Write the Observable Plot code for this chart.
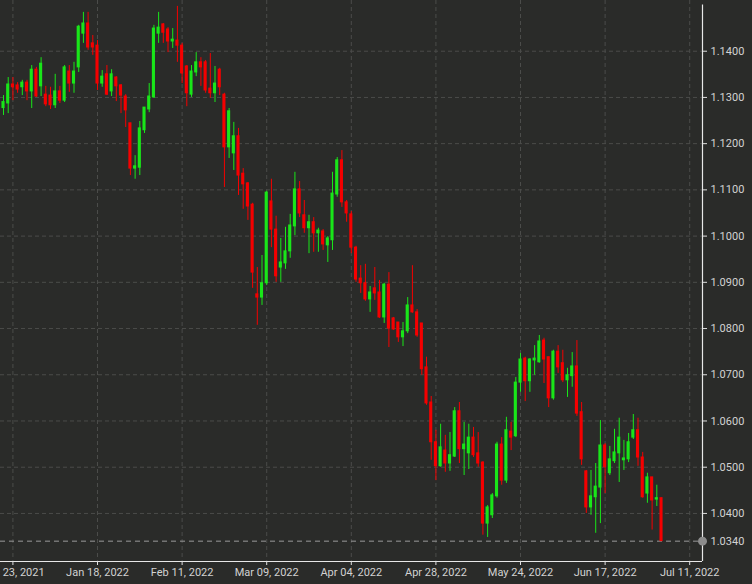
<!DOCTYPE html>
<html><head><meta charset="utf-8">
<script src="https://cdn.jsdelivr.net/npm/d3@7"></script>
<script src="https://cdn.jsdelivr.net/npm/@observablehq/plot@0.6"></script>
<style>
html,body{margin:0;padding:0;background:#2a2b29;overflow:hidden;}
#chart svg{display:block;}
</style>
</head><body><div id="chart"></div>
<script>
// EUR/USD daily candles, trading-day index 0 = Dec 21, 2021
const open  = [1.1277,1.1287,1.1328,1.1326,1.1322,1.1332,1.1313,1.1360,1.1324,1.1306,1.1304,1.1283,1.1313,1.1293,1.1356,1.1330,1.1365,1.1438,1.1460,1.1417,1.1412,1.1330,1.1350,1.1313,1.1343,1.1326,1.1302,1.1244,1.1146,1.1148,1.1229,1.1274,1.1300,1.1438,1.1458,1.1447,1.1421,1.1423,1.1412,1.1367,1.1306,1.1354,1.1376,1.1376,1.1319,1.1309,1.1360,1.1306,1.1192,1.1179,1.1216,1.1135,1.1114,1.1068,1.0874,1.0867,1.0898,1.1075,1.1014,1.0932,1.0941,1.0967,1.1021,1.1101,1.1045,1.1017,1.1030,1.1006,1.1010,1.0980,1.0991,1.1090,1.1164,1.1073,1.1047,1.0975,1.0908,1.0898,1.0863,1.0887,1.0878,1.0824,1.0895,1.0822,1.0813,1.0781,1.0794,1.0850,1.0835,1.0811,1.0716,1.0640,1.0554,1.0502,1.0536,1.0508,1.0523,1.0621,1.0539,1.0530,1.0564,1.0530,1.0510,1.0378,1.0396,1.0437,1.0549,1.0471,1.0577,1.0567,1.0683,1.0735,1.0686,1.0731,1.0727,1.0774,1.0738,1.0649,1.0750,1.0725,1.0688,1.0697,1.0718,1.0619,1.0491,1.0413,1.0435,1.0456,1.0547,1.0487,1.0513,1.0530,1.0515,1.0517,1.0564,1.0580,1.0521,1.0443,1.0478,1.0430,1.0433];
const high  = [1.1304,1.1343,1.1343,1.1332,1.1337,1.1337,1.1369,1.1365,1.1386,1.1324,1.1322,1.1350,1.1324,1.1369,1.1369,1.1376,1.1456,1.1484,1.1484,1.1434,1.1423,1.1358,1.1369,1.1360,1.1345,1.1328,1.1306,1.1244,1.1174,1.1248,1.1278,1.1330,1.1456,1.1484,1.1460,1.1451,1.1449,1.1497,1.1417,1.1369,1.1369,1.1397,1.1386,1.1380,1.1395,1.1367,1.1363,1.1309,1.1276,1.1246,1.1233,1.1146,1.1116,1.1071,1.0932,1.0958,1.1097,1.1123,1.1043,1.0995,1.1019,1.1047,1.1138,1.1118,1.1077,1.1045,1.1040,1.1017,1.1014,1.0999,1.1138,1.1170,1.1185,1.1077,1.1053,1.0978,1.0936,1.0939,1.0891,1.0932,1.0904,1.0898,1.0921,1.0824,1.0813,1.0813,1.0867,1.0936,1.0841,1.0811,1.0738,1.0653,1.0580,1.0593,1.0569,1.0575,1.0629,1.0640,1.0597,1.0593,1.0586,1.0575,1.0512,1.0417,1.0443,1.0554,1.0564,1.0608,1.0597,1.0694,1.0746,1.0738,1.0735,1.0763,1.0785,1.0779,1.0738,1.0753,1.0763,1.0753,1.0714,1.0748,1.0774,1.0640,1.0493,1.0493,1.0508,1.0601,1.0551,1.0545,1.0582,1.0606,1.0558,1.0573,1.0614,1.0606,1.0532,1.0487,1.0478,1.0461,1.0433];
const low   = [1.1261,1.1265,1.1293,1.1309,1.1304,1.1293,1.1276,1.1300,1.1302,1.1280,1.1274,1.1276,1.1287,1.1289,1.1311,1.1309,1.1354,1.1417,1.1402,1.1391,1.1315,1.1322,1.1304,1.1302,1.1291,1.1265,1.1235,1.1131,1.1123,1.1131,1.1222,1.1267,1.1298,1.1417,1.1417,1.1397,1.1406,1.1376,1.1330,1.1280,1.1300,1.1345,1.1324,1.1309,1.1298,1.1289,1.1304,1.1105,1.1168,1.1142,1.1088,1.1058,1.1034,1.0887,1.0807,1.0850,1.0893,1.0975,1.0900,1.0900,1.0928,1.0952,1.1001,1.1040,1.1006,1.0962,1.0965,1.0965,1.0969,1.0943,1.0969,1.1084,1.1062,1.1030,1.0962,1.0900,1.0876,1.0859,1.0835,1.0861,1.0822,1.0811,1.0759,1.0796,1.0770,1.0761,1.0789,1.0833,1.0781,1.0699,1.0634,1.0515,1.0471,1.0500,1.0489,1.0491,1.0521,1.0508,1.0482,1.0495,1.0521,1.0500,1.0353,1.0348,1.0389,1.0433,1.0461,1.0465,1.0536,1.0564,1.0662,1.0642,1.0662,1.0699,1.0725,1.0681,1.0629,1.0645,1.0703,1.0683,1.0651,1.0673,1.0610,1.0504,1.0400,1.0396,1.0357,1.0378,1.0443,1.0482,1.0508,1.0467,1.0493,1.0510,1.0560,1.0502,1.0433,1.0422,1.0364,1.0415,1.0340];
const close = [1.1290,1.1328,1.1322,1.1317,1.1332,1.1313,1.1360,1.1302,1.1373,1.1285,1.1283,1.1313,1.1293,1.1365,1.1330,1.1356,1.1453,1.1460,1.1408,1.1408,1.1330,1.1345,1.1306,1.1350,1.1324,1.1304,1.1272,1.1146,1.1151,1.1233,1.1278,1.1302,1.1449,1.1451,1.1440,1.1421,1.1425,1.1412,1.1352,1.1309,1.1356,1.1376,1.1365,1.1315,1.1309,1.1330,1.1322,1.1192,1.1270,1.1216,1.1131,1.1112,1.1064,1.0921,1.0867,1.0898,1.1094,1.1014,1.0913,1.0943,1.0967,1.1023,1.1101,1.1049,1.1017,1.1030,1.1006,1.1012,1.0982,1.0995,1.1092,1.1164,1.1073,1.1049,1.0975,1.0906,1.0898,1.0863,1.0878,1.0876,1.0824,1.0895,1.0800,1.0798,1.0781,1.0794,1.0850,1.0835,1.0785,1.0712,1.0638,1.0554,1.0502,1.0543,1.0508,1.0526,1.0621,1.0539,1.0549,1.0564,1.0526,1.0508,1.0378,1.0413,1.0439,1.0549,1.0471,1.0580,1.0564,1.0683,1.0733,1.0686,1.0733,1.0735,1.0772,1.0733,1.0649,1.0750,1.0716,1.0688,1.0699,1.0718,1.0616,1.0517,1.0413,1.0437,1.0458,1.0547,1.0500,1.0517,1.0532,1.0564,1.0519,1.0554,1.0580,1.0521,1.0435,1.0478,1.0428,1.0433,1.0340];

const tickDays   = [2, 20, 38, 56, 74, 92, 110, 128, 146];
const tickLabels = ["Dec 23, 2021","Jan 18, 2022","Feb 11, 2022","Mar 09, 2022","Apr 04, 2022","Apr 28, 2022","May 24, 2022","Jun 17, 2022","Jul 11, 2022"];
const priceTicks = [1.04,1.05,1.06,1.07,1.08,1.09,1.10,1.11,1.12,1.13,1.14];
const lastPrice = close[close.length - 1];

const candles = open.map((o, i) => ({
  i, open: o, high: high[i], low: low[i], close: close[i],
  bodyLo: Math.min(o, close[i]), bodyHi: Math.max(o, close[i]),
  color: close[i] >= o ? "#19e619" : "#f50000"
}));

const xDomain = [-0.64, 148.72];
const yDomain = [1.0296, 1.15097];
const fmt = d3.format(".4f");
const GRID = "#4b4c4a";
const edge = [{x: xDomain[1], y: lastPrice}];

const chart = Plot.plot({
  width: 752,
  height: 584,
  marginLeft: 0,
  marginRight: 50,
  marginTop: 0,
  marginBottom: 23,
  style: {background: "#2a2b29", color: "#d2d2d2", fontFamily: "Roboto, 'Open Sans', sans-serif", fontSize: "11px"},
  x: {domain: xDomain, axis: null},
  y: {domain: yDomain, axis: null},
  marks: [
    Plot.gridY(priceTicks, {stroke: GRID, strokeOpacity: 1, strokeDasharray: "4,3"}),
    Plot.gridX(tickDays.filter(d => d < xDomain[1]), {stroke: GRID, strokeOpacity: 1, strokeDasharray: "4,3"}),
    Plot.ruleY([lastPrice], {stroke: "#9a9a9a", strokeDasharray: "5,4"}),
    Plot.ruleX(candles, {x: "i", y1: "low", y2: "high", stroke: "color", strokeWidth: 1}),
    Plot.rect(candles, {
      x1: d => d.i - 0.33, x2: d => d.i + 0.33,
      y1: "bodyLo", y2: "bodyHi",
      fill: "color", insetTop: -0.5, insetBottom: -0.5
    }),
    Plot.ruleX([xDomain[1]], {y1: 1.15, y2: yDomain[0], stroke: "#e8e8e8", strokeWidth: 1.2}),
    Plot.ruleY([yDomain[0]], {x1: xDomain[0], x2: xDomain[1], stroke: "#e8e8e8", strokeWidth: 1.2}),
    Plot.axisY(priceTicks, {anchor: "right", tickFormat: fmt, tickSize: 4, tickPadding: 4, stroke: "#e0e0e0", fill: "#d2d2d2"}),
    Plot.axisX(tickDays, {anchor: "bottom", tickFormat: (d, i) => tickLabels[i], tickSize: 4, tickPadding: 3, stroke: "#e0e0e0", fill: "#d2d2d2"}),
    Plot.dot(edge, {x: "x", y: "y", r: 4.5, fill: "#8c8c8c", stroke: "none"}),
    Plot.text(edge, {x: "x", y: "y", text: d => fmt(d.y), dx: 8, textAnchor: "start", fill: "#d2d2d2"})
  ]
});
// drop Plot's on-canvas warning badge if any was emitted
chart.querySelectorAll("text").forEach(t => { if (/warning/i.test(t.textContent)) t.remove(); });
document.getElementById("chart").appendChild(chart);
</script>
</body></html>
